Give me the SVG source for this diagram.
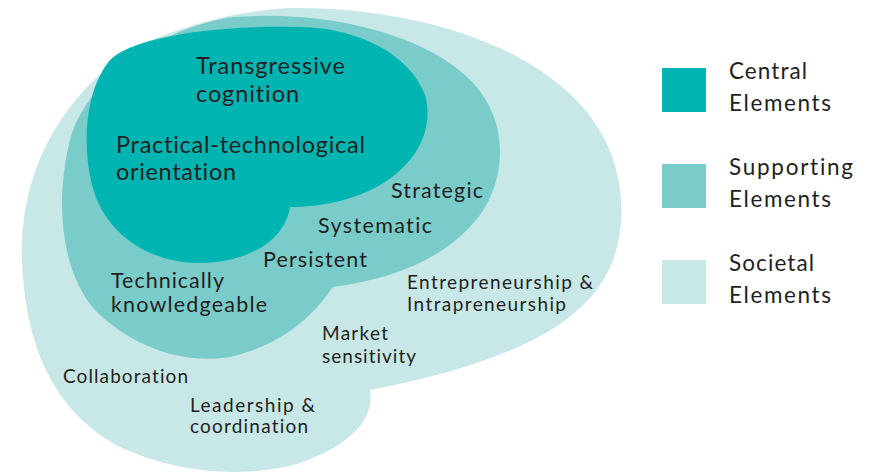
<svg xmlns="http://www.w3.org/2000/svg" width="873" height="473" viewBox="0 0 873 473">
<style>
.t{font-family:Lato,"Noto Sans",sans-serif;fill:#231f20;font-variant-ligatures:none;font-feature-settings:"liga" 0}
.c1{fill:#00b5b1}.c2{fill:#7acccb}.c3{fill:#c8e8e7}
.big{font-size:23.5px}.mid{font-size:21.5px}.sm{font-size:19px}.lg{font-size:22.5px}
</style>
<rect width="873" height="473" fill="#fff"/>
<g id="societal">
<path class="c3" d="M290,8 C420,6 560,50 605,140 C630,190 625,250 600,285 C570,330 500,365 370,390 C375,420 350,445 300,463 C250,478 180,475 120,447 C50,410 25,340 22,260 C20,170 60,100 130,50 C180,25 240,10 290,8 Z"/>
</g>
<g id="supporting">
<path class="c2" d="M233,17 C330,10 430,35 475,85 C510,125 505,180 480,215 C450,255 400,278 333,287 C310,320 280,345 230,357 C180,365 130,345 95,310 C60,270 55,200 70,140 C85,85 150,30 233,17 Z"/>
</g>
<g id="central">
<path class="c1" d="M300,27 C360,28 410,55 425,95 C435,130 415,165 380,185 C355,200 320,207 290,207 C285,240 250,262 200,263 C150,263 105,235 92,185 C82,145 85,90 110,60 C130,40 200,25 300,27 Z"/>
</g>
<g id="labels">
<text class="t big" x="196" y="74" textLength="149" lengthAdjust="spacing">Transgressive</text>
<text class="t big" x="196" y="102" textLength="103" lengthAdjust="spacing">cognition</text>
<text class="t big" x="116" y="153" textLength="249" lengthAdjust="spacing">Practical-technological</text>
<text class="t big" x="116" y="180" textLength="120" lengthAdjust="spacing">orientation</text>
<text class="t mid" x="391" y="198" textLength="92" lengthAdjust="spacing">Strategic</text>
<text class="t mid" x="318" y="233" textLength="114" lengthAdjust="spacing">Systematic</text>
<text class="t mid" x="263" y="267" textLength="104" lengthAdjust="spacing">Persistent</text>
<text class="t mid" x="111" y="288" textLength="113" lengthAdjust="spacing">Technically</text>
<text class="t mid" x="111" y="312" textLength="156" lengthAdjust="spacing">knowledgeable</text>
<text class="t sm" x="407" y="289" textLength="186" lengthAdjust="spacing">Entrepreneurship &amp;</text>
<text class="t sm" x="407" y="311" textLength="159" lengthAdjust="spacing">Intrapreneurship</text>
<text class="t sm" x="322" y="340" textLength="66" lengthAdjust="spacing">Market</text>
<text class="t sm" x="322" y="363" textLength="94" lengthAdjust="spacing">sensitivity</text>
<text class="t sm" x="63" y="383" textLength="125" lengthAdjust="spacing">Collaboration</text>
<text class="t sm" x="190" y="412" textLength="125" lengthAdjust="spacing">Leadership &amp;</text>
<text class="t sm" x="190" y="433" textLength="118" lengthAdjust="spacing">coordination</text>
</g>
<g id="legend">
<rect class="c1" x="662" y="68" width="44" height="44"/>
<text class="t lg" x="729" y="79" textLength="78" lengthAdjust="spacing">Central</text>
<text class="t lg" x="729" y="111" textLength="102" lengthAdjust="spacing">Elements</text>
<rect class="c2" x="662" y="164" width="44" height="44"/>
<text class="t lg" x="729" y="175" textLength="124" lengthAdjust="spacing">Supporting</text>
<text class="t lg" x="729" y="207" textLength="102" lengthAdjust="spacing">Elements</text>
<rect class="c3" x="662" y="260" width="44" height="44"/>
<text class="t lg" x="729" y="271" textLength="85" lengthAdjust="spacing">Societal</text>
<text class="t lg" x="729" y="303" textLength="102" lengthAdjust="spacing">Elements</text>
</g>
</svg>
